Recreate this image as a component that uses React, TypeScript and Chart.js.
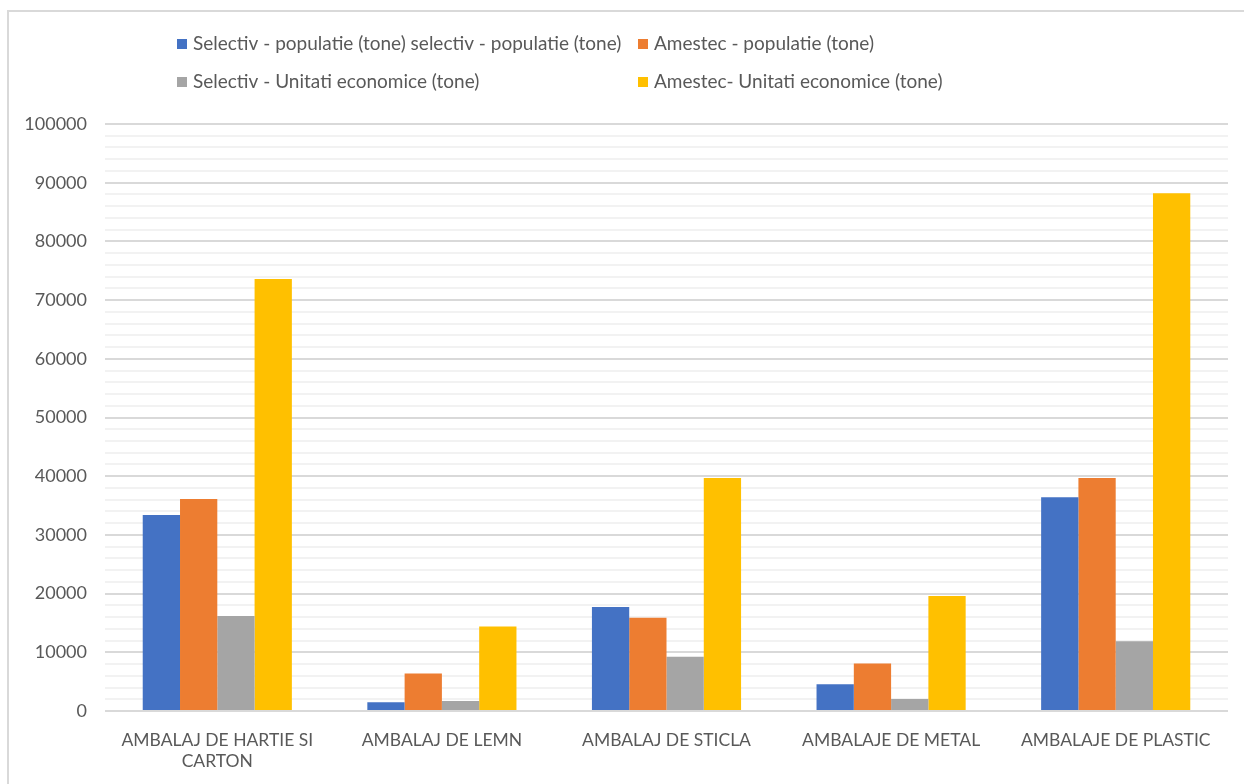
import React, { useEffect, useRef } from "react";
import { Chart, registerables } from "chart.js";

Chart.register(...registerables);

const categories: (string | string[])[] = [
  ["AMBALAJ DE HARTIE SI", "CARTON"],
  "AMBALAJ DE LEMN",
  "AMBALAJ DE STICLA",
  "AMBALAJE DE METAL",
  "AMBALAJE DE PLASTIC",
];

const seriesNames = [
  "Selectiv - populatie (tone) selectiv - populatie (tone)",
  "Amestec - populatie (tone)",
  "Selectiv - Unitati economice (tone)",
  "Amestec- Unitati economice (tone)",
];

const selectivPopulatie = [33400, 1500, 17700, 4550, 36400];
const amestecPopulatie = [36100, 6400, 15900, 8100, 39700];
const selectivUnitati = [16200, 1700, 9250, 2050, 11900];
const amestecUnitati = [73600, 14400, 39700, 19600, 88200];

const seriesColors = ["#4472C4", "#ED7D31", "#A5A5A5", "#FFC000"];

const yMin = 0;
const yMax = 100000;
const yMajorStep = 10000;
const yMinorStep = 2000;

const FONT = "Lato, 'Open Sans', sans-serif";
const TEXT_COLOR = "#595959";

const legendPlugin = {
  id: "gridLegend",
  afterDraw(chart: any) {
    const ctx = chart.ctx as CanvasRenderingContext2D;
    const cols = [177, 638];
    const rows = [44, 82];
    const order = [
      [0, 0, 0],
      [1, 1, 0],
      [2, 0, 1],
      [3, 1, 1],
    ];
    ctx.save();
    ctx.font = `19px ${FONT}`;
    ctx.textBaseline = "middle";
    ctx.textAlign = "left";
    order.forEach(([i, c, r]) => {
      const x = cols[c];
      const y = rows[r];
      ctx.fillStyle = seriesColors[i];
      ctx.fillRect(x, y - 5, 10, 10);
      ctx.fillStyle = TEXT_COLOR;
      ctx.fillText(chart.data.datasets[i].label, x + 16, y);
    });
    ctx.restore();
  },
};

export default function App() {
  const canvasRef = useRef<HTMLCanvasElement | null>(null);

  useEffect(() => {
    document.body.style.margin = "0";
    const canvas = canvasRef.current;
    if (!canvas) return;
    const chart = new Chart(canvas, {
      type: "bar",
      data: {
        labels: categories,
        datasets: [selectivPopulatie, amestecPopulatie, selectivUnitati, amestecUnitati].map(
          (d, i) => ({
            label: seriesNames[i],
            data: d,
            backgroundColor: seriesColors[i],
            borderWidth: 0,
            barPercentage: 1,
            categoryPercentage: 0.664,
          })
        ),
      },
      options: {
        animation: false,
        responsive: false,
        devicePixelRatio: 1,
        layout: { padding: { left: 0, right: 16, top: 124, bottom: 0 } },
        plugins: {
          legend: { display: false },
          tooltip: { enabled: false },
        },
        scales: {
          x: {
            grid: { display: false, drawTicks: false },
            border: { display: false },
            ticks: {
              color: TEXT_COLOR,
              font: { family: FONT, size: 17.5 },
              padding: 19,
              maxRotation: 0,
              autoSkip: false,
            },
            afterFit(scale: any) {
              scale.height = 73;
            },
          },
          y: {
            min: yMin,
            max: yMax,
            border: { display: false },
            grid: {
              drawTicks: false,
              color: (c: any) => (c.tick.value % yMajorStep === 0 ? "#d9d9d9" : "#f2f2f2"),
              lineWidth: 2,
            },
            ticks: {
              stepSize: yMinorStep,
              autoSkip: false,
              color: TEXT_COLOR,
              font: { family: FONT, size: 18 },
              padding: 18,
              callback: (v: any) => (Number(v) % yMajorStep === 0 ? String(v) : ""),
            },
            afterFit(scale: any) {
              scale.width = 105;
            },
          },
        },
      },
      plugins: [legendPlugin],
    });
    return () => chart.destroy();
  }, []);

  return (
    <div style={{ position: "relative", width: 1244, height: 784, overflow: "hidden", background: "#fff" }}>
      <div
        style={{
          position: "absolute",
          left: 7,
          top: 10,
          width: 1400,
          height: 900,
          border: "2px solid #d9d9d9",
        }}
      />
      <canvas ref={canvasRef} width={1244} height={784} style={{ position: "absolute", left: 0, top: 0 }} />
    </div>
  );
}
